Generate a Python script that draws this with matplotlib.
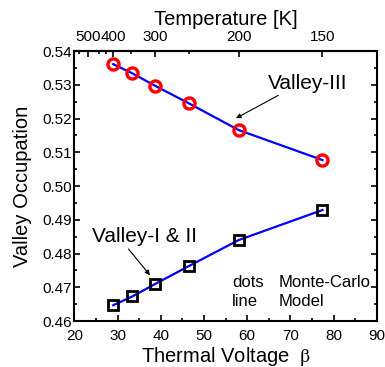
import numpy as np
import matplotlib
matplotlib.use('Agg')
import matplotlib.pyplot as plt
from matplotlib.ticker import MultipleLocator, FixedLocator, NullFormatter

plt.rcParams['font.family'] = ['Liberation Sans', 'DejaVu Sans']
plt.rcParams['mathtext.fontset'] = 'stix'

# thermal voltage beta = q/(kT), one point per temperature
beta = [29.0, 33.4, 38.7, 46.5, 58.0, 77.4]
valley_3 = [0.5361, 0.5334, 0.5297, 0.5245, 0.5166, 0.5077]
valley_12 = [0.4647, 0.4673, 0.4710, 0.4763, 0.4840, 0.4929]

temp_major = [500, 400, 300, 200, 150]
temp_minor = [550, 450, 425, 350, 250]
q_over_k = 11604.5


def beta_to_temp(b):
    b = np.asarray(b, dtype=float)
    return q_over_k / np.where(b == 0, 1e-9, b)


fig = plt.figure(figsize=(3.85, 3.67), dpi=100)
ax = fig.add_axes([0.193, 0.125, 0.786, 0.736])

# blue model line, symbols for Monte-Carlo
ax.plot(beta, valley_3, color='#0000ff', lw=1.6, zorder=2)
ax.plot(beta, valley_12, color='#0000ff', lw=1.6, zorder=2)
ax.plot(beta, valley_3, 'o', ms=8, mfc='none', mec='#ff0000', mew=2.4, zorder=3)
ax.plot(beta, valley_12, 's', ms=7, mfc='none', mec='black', mew=2.0, zorder=3)

ax.set_xlim(20, 90)
ax.set_ylim(0.46, 0.54)
ax.xaxis.set_major_locator(MultipleLocator(10))
ax.xaxis.set_minor_locator(MultipleLocator(5))
ax.yaxis.set_major_locator(MultipleLocator(0.01))
ax.yaxis.set_minor_locator(MultipleLocator(0.005))
ax.yaxis.set_major_formatter(matplotlib.ticker.FormatStrFormatter('%.2f'))
ax.tick_params(which='both', direction='in', right=True, top=False,
               labelsize=11, width=1.2)
ax.tick_params(axis='y', pad=2)
ax.tick_params(axis='x', pad=6)
ax.tick_params(which='major', length=4)
ax.tick_params(which='minor', length=2.5)
for s in ax.spines.values():
    s.set_linewidth(1.5)

ax.set_xlabel(r'Thermal Voltage  $\mathrm{\beta}$', fontsize=14.5, labelpad=1)
ax.set_ylabel('Valley Occupation', fontsize=14.5, labelpad=7)

# temperature scale on top
top = ax.secondary_xaxis('top', functions=(beta_to_temp, beta_to_temp))
top.xaxis.set_major_locator(FixedLocator(temp_major))
top.xaxis.set_minor_locator(FixedLocator(temp_minor))
top.xaxis.set_minor_formatter(NullFormatter())
top.tick_params(which='both', direction='in', labelsize=11, width=1.2, pad=5)
top.tick_params(which='major', length=4)
top.tick_params(which='minor', length=2.5)
top.spines['top'].set_linewidth(1.5)
top.set_xlabel('Temperature [K]', fontsize=14.5, labelpad=4)

# annotations
ax.annotate('Valley-III', xy=(57.4, 0.5201), xytext=(64.7, 0.5305),
            fontsize=15, va='center', ha='left',
            arrowprops=dict(arrowstyle='-|>', color='black', lw=0.8,
                            mutation_scale=7, shrinkA=0, shrinkB=0,
                            relpos=(0.2, 0.0)))
ax.annotate('Valley-I & II', xy=(37.5, 0.4736), xytext=(24.0, 0.4850),
            fontsize=15, va='center', ha='left',
            arrowprops=dict(arrowstyle='-|>', color='black', lw=0.8,
                            mutation_scale=7, shrinkA=0, shrinkB=0,
                            relpos=(0.33, 0.0)))
ax.text(56.5, 0.4715, 'dots', fontsize=12, va='center', ha='left')
ax.text(56.5, 0.4659, 'line', fontsize=12, va='center', ha='left')
ax.text(67.2, 0.4715, 'Monte-Carlo', fontsize=12, va='center', ha='left')
ax.text(67.2, 0.4659, 'Model', fontsize=12, va='center', ha='left')

fig.savefig('out.png', dpi=100)
